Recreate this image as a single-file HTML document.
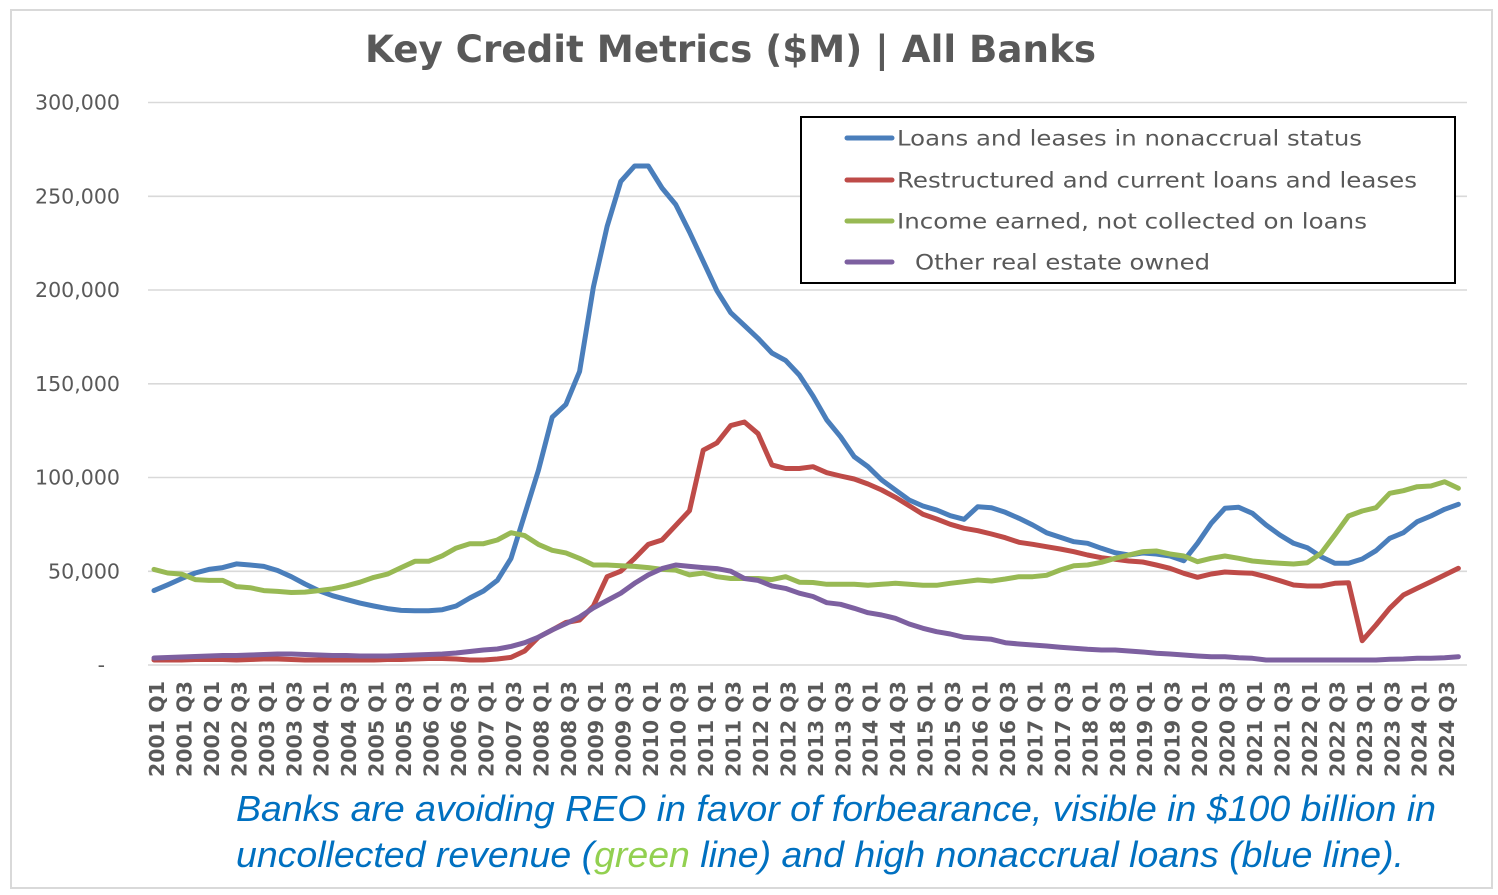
<!DOCTYPE html>
<html>
<head>
<meta charset="utf-8">
<style>
  html,body{margin:0;padding:0;background:#fff;}
  svg{display:block;}
  .ylab{font-family:"DejaVu Sans","Liberation Sans",sans-serif;font-size:20.5px;fill:#595959;}
  .xlab{font-family:"DejaVu Sans","Liberation Sans",sans-serif;font-size:20px;font-weight:bold;fill:#595959;}
  .leg{font-family:"DejaVu Sans","Liberation Sans",sans-serif;font-size:21px;fill:#595959;}
  .title{font-family:"DejaVu Sans","Liberation Sans",sans-serif;font-size:37px;font-weight:bold;fill:#595959;}
  .note{font-family:"Liberation Sans",Arial,sans-serif;font-size:36px;font-style:italic;fill:#0070C0;}
</style>
</head>
<body>
<svg width="1498" height="895" viewBox="0 0 1498 895" xmlns="http://www.w3.org/2000/svg">
  <rect x="0" y="0" width="1498" height="895" fill="#fff"/>
  <rect x="11" y="10" width="1481" height="878" fill="#fff" stroke="#d9d9d9" stroke-width="2"/>

  <!-- Title -->
  <text class="title" x="365" y="62" textLength="731" lengthAdjust="spacingAndGlyphs">Key Credit Metrics ($M) | All Banks</text>

  <!-- Gridlines -->
  <g stroke="#d9d9d9" stroke-width="1.6">
    <line x1="148" y1="102.5" x2="1467" y2="102.5"/>
    <line x1="148" y1="196.3" x2="1467" y2="196.3"/>
    <line x1="148" y1="290" x2="1467" y2="290"/>
    <line x1="148" y1="383.8" x2="1467" y2="383.8"/>
    <line x1="148" y1="477.5" x2="1467" y2="477.5"/>
    <line x1="148" y1="571.3" x2="1467" y2="571.3"/>
    <line x1="148" y1="665" x2="1467" y2="665"/>
  </g>

  <!-- Y labels -->
  <g class="ylab" text-anchor="end">
    <text x="120" y="109.5" textLength="85" lengthAdjust="spacingAndGlyphs">300,000</text>
    <text x="120" y="203.3" textLength="85" lengthAdjust="spacingAndGlyphs">250,000</text>
    <text x="120" y="297" textLength="85" lengthAdjust="spacingAndGlyphs">200,000</text>
    <text x="120" y="390.8" textLength="85" lengthAdjust="spacingAndGlyphs">150,000</text>
    <text x="120" y="484.5" textLength="85" lengthAdjust="spacingAndGlyphs">100,000</text>
    <text x="120" y="578.3" textLength="72" lengthAdjust="spacingAndGlyphs">50,000</text>
    <text x="105" y="672">-</text>
  </g>

  <!-- Series -->
  <g fill="none" stroke-width="5" stroke-linejoin="round" stroke-linecap="round">
    <polyline stroke="#4a7ebb" points="154.0,590.6 167.7,584.8 181.5,578.6 195.2,573.0 208.9,569.4 222.7,567.6 236.4,563.9 250.1,565.0 263.8,566.4 277.6,570.5 291.3,576.7 305.0,584.0 318.8,590.6 332.5,595.7 346.2,599.4 359.9,603.1 373.7,606.0 387.4,608.6 401.1,610.4 414.9,610.8 428.6,610.8 442.3,609.7 456.1,606.0 469.8,598.0 483.5,591.0 497.3,580.4 511.0,558.4 524.7,514.4 538.4,470.4 552.2,417.2 565.9,404.4 579.6,371.4 593.4,287.0 607.1,226.5 620.8,181.4 634.6,166.0 648.3,166.0 662.0,188.0 675.7,204.5 689.5,232.0 703.2,261.3 716.9,290.7 730.7,312.7 744.4,325.5 758.1,338.4 771.9,353.0 785.6,360.4 799.3,375.0 813.0,396.0 826.8,420.0 840.5,436.7 854.2,456.7 868.0,466.7 881.7,480.0 895.4,490.0 909.2,500.0 922.9,506.0 936.6,510.0 950.3,515.7 964.1,519.3 977.8,506.7 991.5,507.7 1005.3,512.3 1019.0,518.3 1032.7,525.0 1046.5,532.7 1060.2,537.3 1073.9,541.7 1087.6,543.3 1101.4,548.3 1115.1,552.7 1128.8,555.0 1142.6,553.0 1156.3,554.0 1170.0,556.0 1183.8,560.7 1197.5,543.3 1211.2,523.3 1224.9,508.3 1238.7,507.3 1252.4,513.3 1266.1,525.0 1279.9,535.0 1293.6,543.3 1307.3,547.7 1321.1,556.7 1334.8,563.3 1348.5,563.3 1362.2,559.0 1376.0,550.7 1389.7,538.3 1403.4,532.7 1417.2,521.7 1430.9,516.0 1444.6,509.3 1458.4,504.3"/>
    <polyline stroke="#be4b48" points="154.0,660 167.7,660 181.5,660 195.2,659.5 208.9,659.5 222.7,659.5 236.4,660 250.1,659.5 263.8,659 277.6,659 291.3,659.5 305.0,660 318.8,660 332.5,660 346.2,660 359.9,660 373.7,660 387.4,659.5 401.1,659.5 414.9,659 428.6,658.5 442.3,658.5 456.1,659 469.8,660 483.5,660 497.3,659 511.0,657.4 524.7,651 538.4,637.2 552.2,629.9 565.9,622.5 579.6,620 593.4,606 607.1,576.7 620.8,571.2 634.6,558.4 648.3,544.4 662.0,540 675.7,525.4 689.5,510.7 703.2,450.2 716.9,442.9 730.7,425.6 744.4,422 758.1,433.7 771.9,464.9 785.6,468.5 799.3,468.5 813.0,466.7 826.8,472.7 840.5,476 854.2,479 868.0,484 881.7,490 895.4,497.3 909.2,505.7 922.9,514.3 936.6,519 950.3,524.3 964.1,528.3 977.8,530.7 991.5,534 1005.3,537.7 1019.0,542.3 1032.7,544.3 1046.5,546.7 1060.2,549 1073.9,551.7 1087.6,555 1101.4,557.7 1115.1,559.3 1128.8,561 1142.6,562 1156.3,565 1170.0,568.3 1183.8,573.3 1197.5,577.3 1211.2,574 1224.9,572 1238.7,572.7 1252.4,573.3 1266.1,576.7 1279.9,580.7 1293.6,585 1307.3,586 1321.1,586 1334.8,583.3 1348.5,582.7 1362.2,640.7 1376.0,625 1389.7,608.3 1403.4,595 1417.2,588.3 1430.9,581.7 1444.6,575 1458.4,568.3"/>
    <polyline stroke="#98b954" points="154.0,569.4 167.7,573.0 181.5,574.1 195.2,579.6 208.9,580.4 222.7,580.4 236.4,586.6 250.1,587.7 263.8,590.6 277.6,591.4 291.3,592.5 305.0,592.1 318.8,590.6 332.5,588.8 346.2,585.9 359.9,582.2 373.7,577.4 387.4,574.1 401.1,567.6 414.9,561.3 428.6,561.3 442.3,555.8 456.1,548.1 469.8,543.7 483.5,543.7 497.3,540 511.0,532.7 524.7,535.6 538.4,544.4 552.2,550.3 565.9,552.9 579.6,558.4 593.4,565 607.1,565 620.8,565.7 634.6,566.4 648.3,567.6 662.0,569.4 675.7,570.1 689.5,574.9 703.2,573 716.9,576.7 730.7,578.5 744.4,578.5 758.1,578.5 771.9,579.6 785.6,576.7 799.3,582.2 813.0,582.5 826.8,584.3 840.5,584.3 854.2,584.3 868.0,585.3 881.7,584.3 895.4,583.3 909.2,584.3 922.9,585.3 936.6,585.3 950.3,583.3 964.1,581.7 977.8,580 991.5,581 1005.3,579 1019.0,576.7 1032.7,576.7 1046.5,575.3 1060.2,570 1073.9,565.7 1087.6,565 1101.4,562.3 1115.1,558.3 1128.8,555 1142.6,551.7 1156.3,551 1170.0,554 1183.8,556 1197.5,561.7 1211.2,558.3 1224.9,556 1238.7,558.3 1252.4,561 1266.1,562.3 1279.9,563.3 1293.6,564 1307.3,562.7 1321.1,553.3 1334.8,535 1348.5,516 1362.2,511 1376.0,507.7 1389.7,493.3 1403.4,490.7 1417.2,486.7 1430.9,486 1444.6,481.7 1458.4,488.3"/>
    <polyline stroke="#7d60a0" points="154.0,658 167.7,657.5 181.5,657 195.2,656.5 208.9,656 222.7,655.5 236.4,655.5 250.1,655 263.8,654.5 277.6,654 291.3,654 305.0,654.5 318.8,655 332.5,655.5 346.2,655.5 359.9,656 373.7,656 387.4,656 401.1,655.5 414.9,655 428.6,654.5 442.3,654 456.1,653 469.8,651.5 483.5,650 497.3,649 511.0,646.4 524.7,642.7 538.4,637.2 552.2,629.9 565.9,623.6 579.6,617 593.4,607.9 607.1,600.5 620.8,593.2 634.6,583.3 648.3,574.9 662.0,568.6 675.7,565 689.5,566.4 703.2,567.6 716.9,568.6 730.7,571.2 744.4,578.5 758.1,580.4 771.9,585.9 785.6,588.4 799.3,593.2 813.0,596.5 826.8,602.7 840.5,604.3 854.2,608.3 868.0,612.7 881.7,615 895.4,618.3 909.2,624 922.9,628.3 936.6,631.7 950.3,634 964.1,637.3 977.8,638.3 991.5,639.3 1005.3,642.7 1019.0,644 1032.7,645 1046.5,646 1060.2,647.3 1073.9,648.3 1087.6,649.3 1101.4,650 1115.1,650 1128.8,651 1142.6,652 1156.3,653.3 1170.0,654 1183.8,655 1197.5,656 1211.2,656.7 1224.9,656.7 1238.7,657.7 1252.4,658.3 1266.1,660 1279.9,660 1293.6,660 1307.3,660 1321.1,660 1334.8,660 1348.5,660 1362.2,660 1376.0,660 1389.7,659.3 1403.4,659 1417.2,658.3 1430.9,658.3 1444.6,657.7 1458.4,656.7"/>
  </g>

  <!-- X labels -->
  <g class="xlab">
    <text transform="translate(164.0,777) rotate(-90)" textLength="96" lengthAdjust="spacingAndGlyphs">2001 Q1</text>
    <text transform="translate(191.5,777) rotate(-90)" textLength="96" lengthAdjust="spacingAndGlyphs">2001 Q3</text>
    <text transform="translate(218.9,777) rotate(-90)" textLength="96" lengthAdjust="spacingAndGlyphs">2002 Q1</text>
    <text transform="translate(246.4,777) rotate(-90)" textLength="96" lengthAdjust="spacingAndGlyphs">2002 Q3</text>
    <text transform="translate(273.8,777) rotate(-90)" textLength="96" lengthAdjust="spacingAndGlyphs">2003 Q1</text>
    <text transform="translate(301.3,777) rotate(-90)" textLength="96" lengthAdjust="spacingAndGlyphs">2003 Q3</text>
    <text transform="translate(328.7,777) rotate(-90)" textLength="96" lengthAdjust="spacingAndGlyphs">2004 Q1</text>
    <text transform="translate(356.2,777) rotate(-90)" textLength="96" lengthAdjust="spacingAndGlyphs">2004 Q3</text>
    <text transform="translate(383.6,777) rotate(-90)" textLength="96" lengthAdjust="spacingAndGlyphs">2005 Q1</text>
    <text transform="translate(411.1,777) rotate(-90)" textLength="96" lengthAdjust="spacingAndGlyphs">2005 Q3</text>
    <text transform="translate(438.5,777) rotate(-90)" textLength="96" lengthAdjust="spacingAndGlyphs">2006 Q1</text>
    <text transform="translate(466.0,777) rotate(-90)" textLength="96" lengthAdjust="spacingAndGlyphs">2006 Q3</text>
    <text transform="translate(493.4,777) rotate(-90)" textLength="96" lengthAdjust="spacingAndGlyphs">2007 Q1</text>
    <text transform="translate(520.9,777) rotate(-90)" textLength="96" lengthAdjust="spacingAndGlyphs">2007 Q3</text>
    <text transform="translate(548.3,777) rotate(-90)" textLength="96" lengthAdjust="spacingAndGlyphs">2008 Q1</text>
    <text transform="translate(575.8,777) rotate(-90)" textLength="96" lengthAdjust="spacingAndGlyphs">2008 Q3</text>
    <text transform="translate(603.2,777) rotate(-90)" textLength="96" lengthAdjust="spacingAndGlyphs">2009 Q1</text>
    <text transform="translate(630.7,777) rotate(-90)" textLength="96" lengthAdjust="spacingAndGlyphs">2009 Q3</text>
    <text transform="translate(658.1,777) rotate(-90)" textLength="96" lengthAdjust="spacingAndGlyphs">2010 Q1</text>
    <text transform="translate(685.6,777) rotate(-90)" textLength="96" lengthAdjust="spacingAndGlyphs">2010 Q3</text>
    <text transform="translate(713.0,777) rotate(-90)" textLength="96" lengthAdjust="spacingAndGlyphs">2011 Q1</text>
    <text transform="translate(740.5,777) rotate(-90)" textLength="96" lengthAdjust="spacingAndGlyphs">2011 Q3</text>
    <text transform="translate(767.9,777) rotate(-90)" textLength="96" lengthAdjust="spacingAndGlyphs">2012 Q1</text>
    <text transform="translate(795.4,777) rotate(-90)" textLength="96" lengthAdjust="spacingAndGlyphs">2012 Q3</text>
    <text transform="translate(822.8,777) rotate(-90)" textLength="96" lengthAdjust="spacingAndGlyphs">2013 Q1</text>
    <text transform="translate(850.3,777) rotate(-90)" textLength="96" lengthAdjust="spacingAndGlyphs">2013 Q3</text>
    <text transform="translate(877.7,777) rotate(-90)" textLength="96" lengthAdjust="spacingAndGlyphs">2014 Q1</text>
    <text transform="translate(905.2,777) rotate(-90)" textLength="96" lengthAdjust="spacingAndGlyphs">2014 Q3</text>
    <text transform="translate(932.6,777) rotate(-90)" textLength="96" lengthAdjust="spacingAndGlyphs">2015 Q1</text>
    <text transform="translate(960.1,777) rotate(-90)" textLength="96" lengthAdjust="spacingAndGlyphs">2015 Q3</text>
    <text transform="translate(987.5,777) rotate(-90)" textLength="96" lengthAdjust="spacingAndGlyphs">2016 Q1</text>
    <text transform="translate(1015.0,777) rotate(-90)" textLength="96" lengthAdjust="spacingAndGlyphs">2016 Q3</text>
    <text transform="translate(1042.4,777) rotate(-90)" textLength="96" lengthAdjust="spacingAndGlyphs">2017 Q1</text>
    <text transform="translate(1069.9,777) rotate(-90)" textLength="96" lengthAdjust="spacingAndGlyphs">2017 Q3</text>
    <text transform="translate(1097.3,777) rotate(-90)" textLength="96" lengthAdjust="spacingAndGlyphs">2018 Q1</text>
    <text transform="translate(1124.8,777) rotate(-90)" textLength="96" lengthAdjust="spacingAndGlyphs">2018 Q3</text>
    <text transform="translate(1152.2,777) rotate(-90)" textLength="96" lengthAdjust="spacingAndGlyphs">2019 Q1</text>
    <text transform="translate(1179.7,777) rotate(-90)" textLength="96" lengthAdjust="spacingAndGlyphs">2019 Q3</text>
    <text transform="translate(1207.1,777) rotate(-90)" textLength="96" lengthAdjust="spacingAndGlyphs">2020 Q1</text>
    <text transform="translate(1234.6,777) rotate(-90)" textLength="96" lengthAdjust="spacingAndGlyphs">2020 Q3</text>
    <text transform="translate(1262.0,777) rotate(-90)" textLength="96" lengthAdjust="spacingAndGlyphs">2021 Q1</text>
    <text transform="translate(1289.5,777) rotate(-90)" textLength="96" lengthAdjust="spacingAndGlyphs">2021 Q3</text>
    <text transform="translate(1316.9,777) rotate(-90)" textLength="96" lengthAdjust="spacingAndGlyphs">2022 Q1</text>
    <text transform="translate(1344.4,777) rotate(-90)" textLength="96" lengthAdjust="spacingAndGlyphs">2022 Q3</text>
    <text transform="translate(1371.8,777) rotate(-90)" textLength="96" lengthAdjust="spacingAndGlyphs">2023 Q1</text>
    <text transform="translate(1399.3,777) rotate(-90)" textLength="96" lengthAdjust="spacingAndGlyphs">2023 Q3</text>
    <text transform="translate(1426.7,777) rotate(-90)" textLength="96" lengthAdjust="spacingAndGlyphs">2024 Q1</text>
    <text transform="translate(1454.2,777) rotate(-90)" textLength="96" lengthAdjust="spacingAndGlyphs">2024 Q3</text>
  </g>

  <!-- Legend -->
  <rect x="801" y="117" width="654" height="166" fill="#fff" stroke="#000" stroke-width="2"/>
  <g stroke-width="5" stroke-linecap="round">
    <line x1="847" y1="138" x2="892" y2="138" stroke="#4a7ebb"/>
    <line x1="847" y1="180" x2="892" y2="180" stroke="#be4b48"/>
    <line x1="847" y1="221" x2="892" y2="221" stroke="#98b954"/>
    <line x1="847" y1="262" x2="892" y2="262" stroke="#7d60a0"/>
  </g>
  <g class="leg">
    <text x="897" y="145.5" textLength="465" lengthAdjust="spacingAndGlyphs">Loans and leases in nonaccrual status</text>
    <text x="897" y="187.5" textLength="520" lengthAdjust="spacingAndGlyphs">Restructured and current loans and leases</text>
    <text x="897" y="228.5" textLength="470" lengthAdjust="spacingAndGlyphs">Income earned, not collected on loans</text>
    <text x="915" y="269.5" textLength="295" lengthAdjust="spacingAndGlyphs">Other real estate owned</text>
  </g>

  <!-- Annotation -->
  <text class="note" x="236" y="821" textLength="1200" lengthAdjust="spacingAndGlyphs">Banks are avoiding REO in favor of forbearance, visible in $100 billion in</text>
  <text class="note" x="236" y="867" textLength="1168" lengthAdjust="spacingAndGlyphs">uncollected revenue (<tspan fill="#92D050">green</tspan> line) and high nonaccrual loans (blue line).</text>
</svg>
</body>
</html>
